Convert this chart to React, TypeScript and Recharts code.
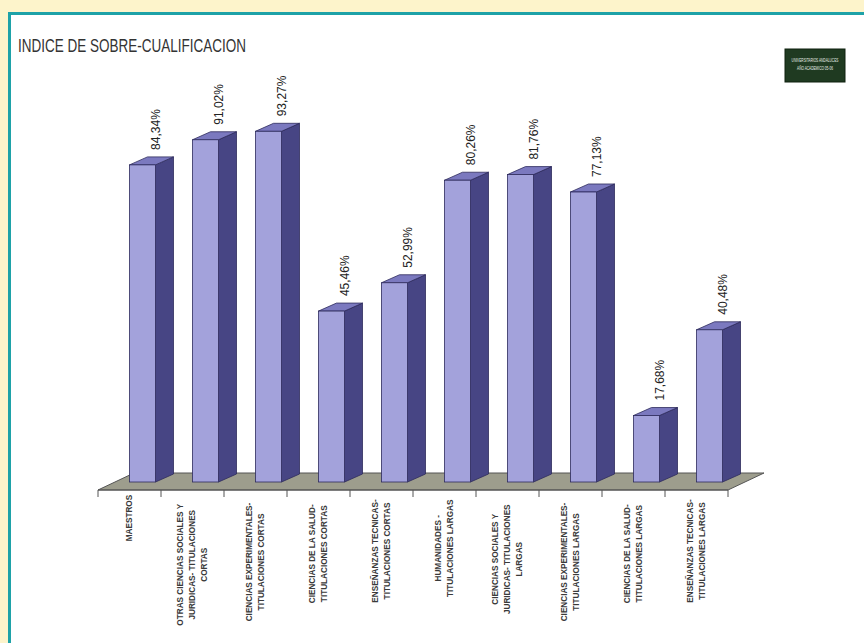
import React from 'react';
import { BarChart, Bar, XAxis, YAxis, LabelList } from 'recharts';

// Categories (lines of each rotated label split by '|')
const categories = [
  'MAESTROS',
  'OTRAS CIENCIAS SOCIALES Y|JURIDICAS- TITULACIONES|CORTAS',
  'CIENCIAS EXPERIMENTALES-|TITULACIONES CORTAS',
  'CIENCIAS DE LA SALUD-|TITULACIONES CORTAS',
  'ENSEÑANZAS TECNICAS-|TITULACIONES CORTAS',
  'HUMANIDADES -|TITULACIONES LARGAS',
  'CIENCIAS SOCIALES Y|JURIDICAS- TITULACIONES|LARGAS',
  'CIENCIAS EXPERIMENTALES-|TITULACIONES LARGAS',
  'CIENCIAS DE LA SALUD-|TITULACIONES LARGAS',
  'ENSEÑANZAS TECNICAS-|TITULACIONES LARGAS',
];

// Indice de sobre-cualificacion (%)
const values = [84.34, 91.02, 93.27, 45.46, 52.99, 80.26, 81.76, 77.13, 17.68, 40.48];

const TITLE = 'INDICE DE SOBRE-CUALIFICACION';
const LEGEND_LINES = ['UNIVERSITARIOS ANDALUCES', 'AÑO ACADEMICO 05-06'];

const data = categories.map((name, i) => ({ name, value: values[i] }));

// layout
const W = 864;
const H = 643;
const MARGIN = { top: 114, right: 136, bottom: 123, left: 98 };
const XAXIS_H = 30;
const PLOT_LEFT = MARGIN.left;
const PLOT_RIGHT = W - MARGIN.right;
const PLOT_BOTTOM = H - MARGIN.bottom - XAXIS_H;

// colours
const CREAM = '#fdf4cb';
const TEAL = '#1ea2a8';
const FRONT = '#a3a2db';
const SIDE = '#474584';
const TOP = '#7b79bf';
const EDGE = '#2d2b5c';
const FLOOR = '#9d9d8d';

// 3D box geometry
const BAR_W = 26;
const SHIFT = 12.5;
const DX = 18;
const DY = -8;
const LIFT = 8;
const FLOOR_DX = 36;
const FLOOR_DY = -17;

const Box3D = (props: any) => {
  const { x, y, width, height } = props;
  const fx = x + SHIFT;
  const fy = y - LIFT;
  const fb = y + height - LIFT;
  const w = width;
  return (
    <g>
      <polygon
        points={`${fx + w},${fy} ${fx + w + DX},${fy + DY} ${fx + w + DX},${fb + DY} ${fx + w},${fb}`}
        fill={SIDE}
        stroke={EDGE}
        strokeWidth={0.8}
      />
      <polygon
        points={`${fx},${fy} ${fx + DX},${fy + DY} ${fx + w + DX},${fy + DY} ${fx + w},${fy}`}
        fill={TOP}
        stroke={EDGE}
        strokeWidth={0.8}
      />
      <rect x={fx} y={fy} width={w} height={fb - fy} fill={FRONT} stroke={EDGE} strokeWidth={0.8} />
    </g>
  );
};

const ValueLabel = (props: any) => {
  const { x, y, width, value } = props;
  const lx = x + SHIFT + width + 1;
  const ly = y - LIFT - 15;
  const txt = Number(value).toFixed(2).replace('.', ',') + '%';
  return (
    <text
      x={lx}
      y={ly}
      transform={`rotate(-90 ${lx} ${ly})`}
      textAnchor="start"
      dominantBaseline="central"
      fontSize={12}
      fill="#222"
      fontFamily="Liberation Sans, Arial, sans-serif"
    >
      {txt}
    </text>
  );
};

const CategoryTick = (props: any) => {
  const { x, y, payload, index } = props;
  const half = payload && payload.offset ? payload.offset : (PLOT_RIGHT - PLOT_LEFT) / categories.length / 2;
  const lines = String(payload.value).split('|');
  const longest = Math.max(...lines.map((l) => l.length));
  const cy = y + 6 + (longest * 5.5) / 2;
  const n = lines.length;
  return (
    <g>
      <line x1={x - half} y1={y} x2={x - half} y2={y + 7} stroke="#555" strokeWidth={1} />
      {index === categories.length - 1 && (
        <line x1={x + half} y1={y} x2={x + half} y2={y + 7} stroke="#555" strokeWidth={1} />
      )}
      {lines.map((line, i) => {
        const lx = x + (i - (n - 1) / 2) * 12;
        return (
          <text
            key={i}
            x={lx}
            y={cy}
            transform={`rotate(-90 ${lx} ${cy})`}
            textAnchor="middle"
            dominantBaseline="central"
            fontSize={8.2}
            fontWeight="bold"
            fill="#3a3a3a"
            fontFamily="Liberation Sans, Arial, sans-serif"
          >
            {line}
          </text>
        );
      })}
    </g>
  );
};

export default function App() {
  const floorPts = [
    [PLOT_LEFT, PLOT_BOTTOM],
    [PLOT_RIGHT, PLOT_BOTTOM],
    [PLOT_RIGHT + FLOOR_DX, PLOT_BOTTOM + FLOOR_DY],
    [PLOT_LEFT + FLOOR_DX, PLOT_BOTTOM + FLOOR_DY],
  ]
    .map((p) => p.join(','))
    .join(' ');

  return (
    <div
      style={{
        position: 'absolute',
        left: 0,
        top: 0,
        width: W,
        height: H,
        background: CREAM,
        overflow: 'hidden',
        fontFamily: 'Liberation Sans, Arial, sans-serif',
      }}
    >
      {/* white panel with teal border */}
      <div
        style={{
          position: 'absolute',
          left: 8,
          top: 12,
          right: -4,
          bottom: -4,
          background: '#fff',
          borderLeft: `3px solid ${TEAL}`,
          borderTop: `3px solid ${TEAL}`,
        }}
      />

      {/* floor, title and legend box */}
      <svg width={W} height={H} style={{ position: 'absolute', left: 0, top: 0 }}>
        <polygon points={floorPts} fill={FLOOR} stroke="#555" strokeWidth={1} />
        <text
          x={18}
          y={52}
          fontSize={19}
          fill="#333"
          textLength={228}
          lengthAdjust="spacingAndGlyphs"
          fontFamily="Liberation Sans, Arial, sans-serif"
        >
          {TITLE}
        </text>
        <rect x={785} y={49} width={60} height={33} fill="#1f3a21" stroke="#0f200f" strokeWidth={1} />
        {LEGEND_LINES.map((l, i) => (
          <text
            key={i}
            transform={`translate(815 ${62 + i * 8}) scale(0.58 1)`}
            textAnchor="middle"
            fontSize={5.5}
            fill="#e8efe6"
            fontFamily="Liberation Sans, Arial, sans-serif"
          >
            {l}
          </text>
        ))}
      </svg>

      <div style={{ position: 'absolute', left: 0, top: 0 }}>
        <BarChart width={W} height={H} data={data} margin={MARGIN}>
          <XAxis
            dataKey="name"
            height={XAXIS_H}
            interval={0}
            tickLine={false}
            tickSize={0}
            tickMargin={0}
            axisLine={{ stroke: '#555', strokeWidth: 1 }}
            tick={<CategoryTick />}
          />
          <YAxis hide domain={[0, 100]} />
          <Bar dataKey="value" barSize={BAR_W} shape={<Box3D />} isAnimationActive={false}>
            <LabelList dataKey="value" content={<ValueLabel />} />
          </Bar>
        </BarChart>
      </div>
    </div>
  );
}
